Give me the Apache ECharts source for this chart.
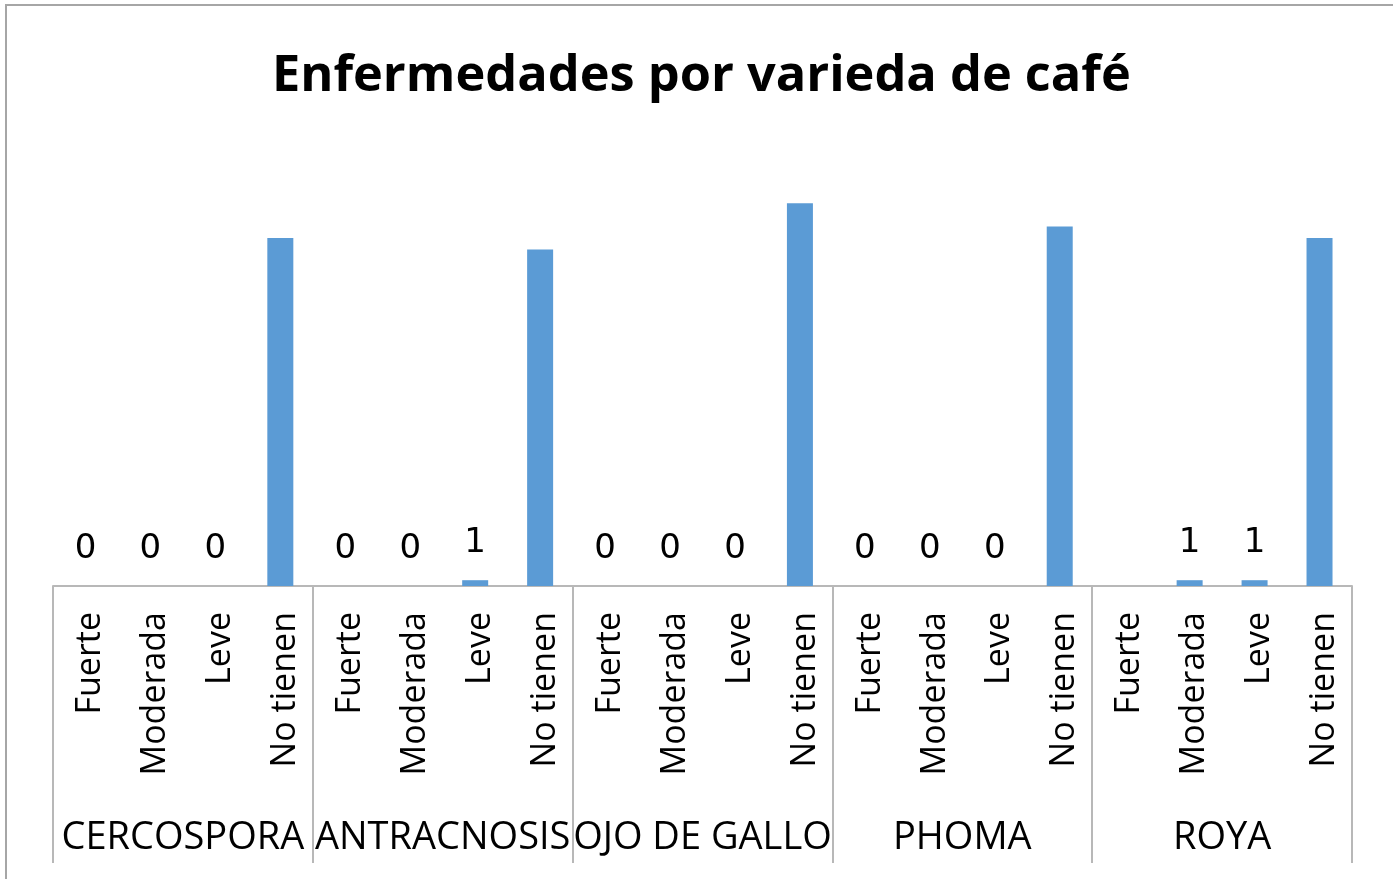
<!DOCTYPE html>
<html>
<head>
<meta charset="utf-8">
<script src="https://cdn.jsdelivr.net/npm/echarts@6/dist/echarts.min.js"></script>
<style>
html,body{margin:0;padding:0;background:#fff;}
#chart{width:1393px;height:879px;}
</style>
</head>
<body>
<div id="chart"></div>
<script>
// ---- data ----
var titleText = "Enfermedades por varieda de café";
var groups = ["CERCOSPORA", "ANTRACNOSIS", "OJO DE GALLO", "PHOMA", "ROYA"];
var levels = ["Fuerte", "Moderada", "Leve", "No tienen"];
var cercospora = [0, 0, 0, 60];
var antracnosis = [0, 0, 1, 58];
var ojoDeGallo = [0, 0, 0, 66];
var phoma = [0, 0, 0, 62];
var roya = [null, 1, 1, 60];

// ---- build ----
var groupValues = [cercospora, antracnosis, ojoDeGallo, phoma, roya];
var categories = [];
var seriesData = [];
groups.forEach(function (g, gi) {
  levels.forEach(function (lv, li) {
    categories.push(lv);
    var v = groupValues[gi][li];
    seriesData.push({
      value: v,
      label: { show: li !== 3 }
    });
  });
});

var chart = echarts.init(document.getElementById('chart'), null, { renderer: 'canvas' });
var axisGray = '#b8b8b8';
chart.setOption({
  backgroundColor: '#ffffff',
  animation: false,
  title: {
    text: titleText,
    left: 272,
    top: 51,
    padding: 0,
    textStyle: {
      fontFamily: 'Open Sans',
      fontWeight: 'bold',
      fontSize: 50.5,
      color: '#000000'
    }
  },
  graphic: [{
    type: 'rect',
    shape: { x: 6, y: 5, width: 1500, height: 1000 },
    style: { fill: 'none', stroke: '#a6a6a6', lineWidth: 2 },
    silent: true,
    z: -10
  }],
  grid: { left: 53, right: 41, top: 180, bottom: 293, containLabel: false },
  xAxis: [{
    type: 'category',
    data: categories,
    position: 'bottom',
    offset: 0,
    axisLine: { show: true, lineStyle: { color: axisGray, width: 2 } },
    axisTick: { show: false },
    axisLabel: {
      interval: 0,
      rotate: 90,
      margin: 26,
      formatter: function (v) { return '{t|' + v + '}'; },
      rich: {
        t: {
          padding: [10, 0, 0, 0],
          fontFamily: 'Open Sans',
          fontSize: 34,
          color: '#000000'
        }
      },
      fontFamily: 'Open Sans',
      fontSize: 34,
      color: '#000000'
    }
  }, {
    type: 'category',
    data: groups,
    position: 'bottom',
    offset: 0,
    axisLine: { show: false },
    axisTick: { show: true, interval: 0, length: 277, lineStyle: { color: axisGray, width: 2 } },
    axisLabel: {
      interval: 0,
      margin: 233,
      fontFamily: 'Open Sans',
      fontSize: 38,
      color: '#000000'
    }
  }],
  yAxis: {
    type: 'value',
    min: 0,
    max: 70,
    show: false,
    splitLine: { show: false }
  },
  series: [{
    type: 'bar',
    xAxisIndex: 0,
    data: seriesData,
    barWidth: 26,
    itemStyle: { color: '#5b9bd5' },
    label: {
      position: 'top',
      distance: 20,
      fontFamily: 'DejaVu Sans',
      fontSize: 34,
      color: '#000000'
    }
  }]
});
</script>
</body>
</html>
